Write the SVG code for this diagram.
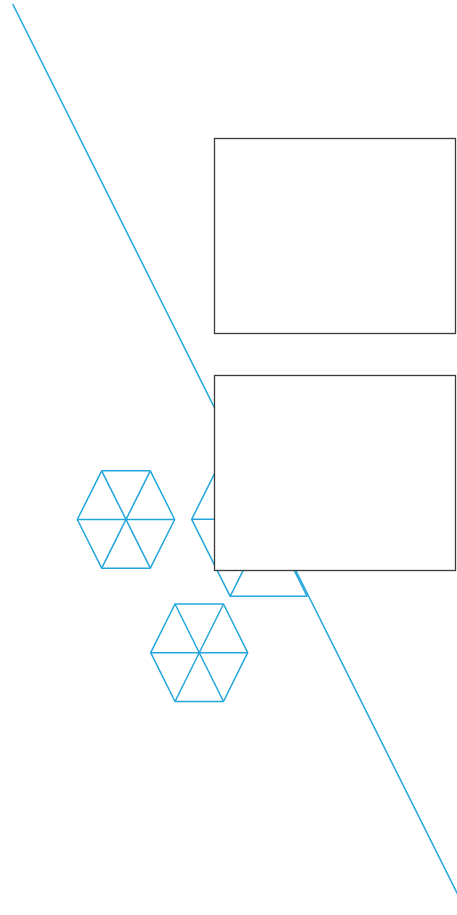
<svg xmlns="http://www.w3.org/2000/svg" width="457" height="915" viewBox="0 0 457 915">
<style>
.blue{fill:none;stroke:#22a6dc;stroke-width:1.5;stroke-linejoin:round}
.box{fill:#fff;stroke:#3a3a3a;stroke-width:1.3}
</style>
<rect width="457" height="915" fill="#fff"/>
<g id="connectors">
<line class="blue" x1="12.7" y1="4" x2="457.5" y2="894"/>
</g>
<g id="hex-a">
<polygon class="blue" points="77.3,519.5 101.7,470.8 150.3,470.8 174.7,519.5 150.3,568.2 101.7,568.2"/>
<path class="blue" d="M77.3,519.5H174.7M101.7,470.8L150.3,568.2M150.3,470.8L101.7,568.2"/>
</g>
<g id="hex-c">
<polygon class="blue" points="150.7,652.7 175,604 223.5,604 247.7,652.7 223.5,701.5 175,701.5"/>
<path class="blue" d="M150.7,652.7H247.7M175,604L223.5,701.5M223.5,604L175,701.5"/>
</g>
<g id="hex-b">
<polyline class="blue" points="307.2,596.3 230.2,596.3 191.7,519.3 230.2,442.3 307.2,442.3 345.7,519.3"/>
<path class="blue" d="M191.7,519.3H345.7M230.2,442.3L307.2,596.3M307.2,442.3L230.2,596.3"/>
</g>
<g id="box-top">
<rect class="box" x="214.5" y="138.5" width="241" height="195"/>
</g>
<g id="box-bottom">
<rect class="box" x="214.5" y="375.5" width="241" height="195"/>
</g>
</svg>
